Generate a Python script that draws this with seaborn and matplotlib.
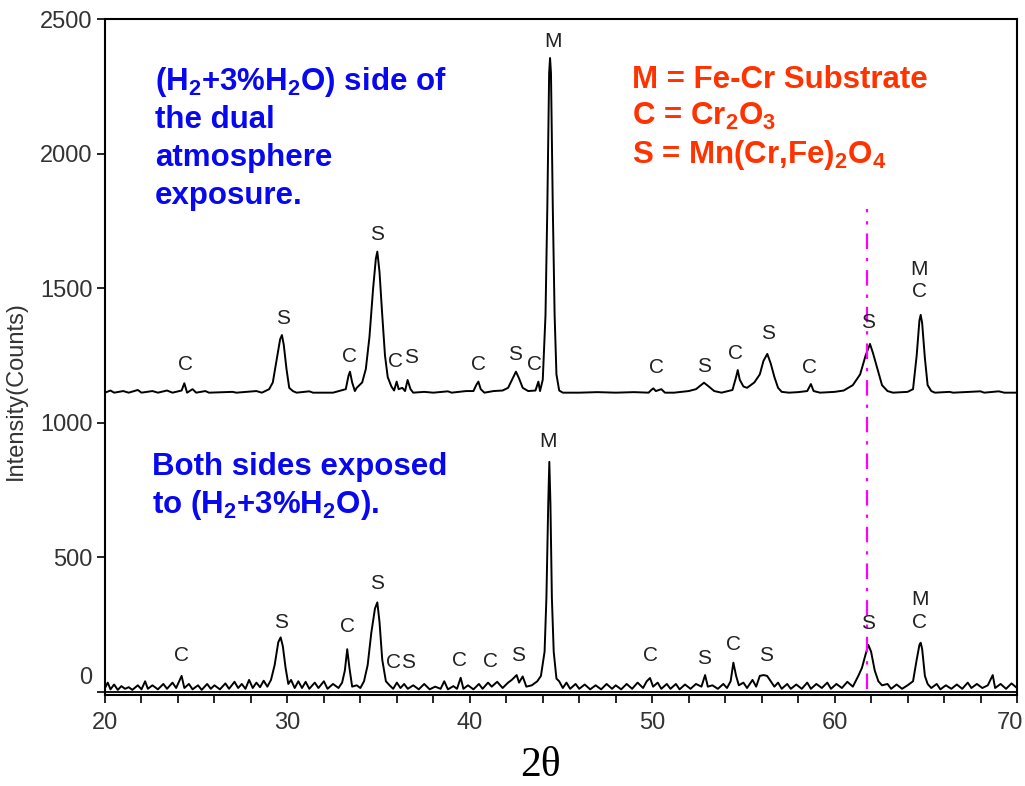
import matplotlib
matplotlib.use("Agg")
import matplotlib.pyplot as plt
import matplotlib.transforms as mtransforms
import seaborn as sns
import pandas as pd

# ---------------- data ----------------
top_x = [20.0, 20.3, 20.5, 21.0, 21.3, 21.8, 22.0, 22.6, 22.9, 23.4, 23.7, 24.2, 24.35, 24.5, 24.8, 25.0,
         25.5, 25.7, 27.0, 27.2, 28.3, 28.6, 29.0, 29.2, 29.4, 29.6, 29.7, 29.8, 29.95, 30.1, 30.3, 30.5,
         31.2, 31.4, 32.5, 33.2, 33.35, 33.43, 33.55, 33.7, 33.8, 34.1, 34.3, 34.5, 34.7, 34.85, 34.93,
         35.05, 35.2, 35.35, 35.5, 35.7, 35.85, 35.99, 36.1, 36.3, 36.45, 36.59, 36.75, 36.9, 37.5, 38.0,
         38.8, 39.0, 39.8, 40.2, 40.35, 40.47, 40.6, 40.8, 41.3, 41.8, 42.1, 42.35, 42.53, 42.7, 42.9,
         43.2, 43.6, 43.76, 43.85, 44.0, 44.15, 44.25, 44.35, 44.4, 44.45, 44.55, 44.65, 44.75, 44.9,
         45.1, 46.0, 47.0, 48.0, 49.0, 49.8, 49.95, 50.06, 50.2, 50.5, 50.7, 51.2, 52.0, 52.4, 52.84,
         53.1, 53.4, 53.8, 54.4, 54.6, 54.69, 54.8, 55.0, 55.2, 55.4, 55.6, 55.9, 56.1, 56.31, 56.5,
         56.7, 56.9, 57.1, 57.5, 58.0, 58.5, 58.7, 58.85, 59.2, 60.0, 60.5, 61.0, 61.4, 61.7, 61.94,
         62.1, 62.35, 62.6, 62.9, 63.2, 64.0, 64.3, 64.5, 64.65, 64.72, 64.8, 64.95, 65.1, 65.3, 65.5,
         66.3, 66.5, 68.0, 68.2, 69.0, 69.3, 70.0]
top_y = [1112, 1120, 1112, 1118, 1112, 1122, 1112, 1118, 1112, 1120, 1112, 1120, 1147, 1112, 1125, 1112,
         1118, 1112, 1115, 1112, 1118, 1112, 1125, 1150, 1230, 1310, 1326, 1290, 1200, 1130, 1118, 1112,
         1117, 1112, 1112, 1125, 1175, 1190, 1150, 1118, 1130, 1150, 1200, 1320, 1500, 1610, 1636,
         1560, 1400, 1250, 1170, 1135, 1120, 1153, 1125, 1130, 1118, 1159, 1125, 1112, 1115, 1112,
         1117, 1112, 1118, 1118, 1140, 1153, 1125, 1112, 1118, 1120, 1130, 1165, 1190, 1165, 1130,
         1118, 1120, 1153, 1118, 1160, 1400, 1800, 2300, 2355, 2300, 1800, 1400, 1180, 1120,
         1112, 1112, 1114, 1112, 1114, 1112, 1122, 1128, 1118, 1125, 1112, 1112, 1118, 1125, 1149,
         1135, 1118, 1112, 1122, 1170, 1196, 1160, 1135, 1130, 1140, 1150, 1180, 1230, 1256, 1220,
         1170, 1130, 1115, 1112, 1114, 1118, 1144, 1118, 1112, 1115, 1120, 1140, 1180, 1250, 1293,
         1260, 1200, 1140, 1118, 1112, 1115, 1125, 1250, 1380, 1401, 1370, 1240, 1140, 1118, 1112,
         1115, 1112, 1117, 1112, 1117, 1112, 1112]

bot_x = [20.0, 20.15, 20.3, 20.5, 20.7, 20.9, 21.1, 21.3, 21.5, 21.8, 22.0, 22.2, 22.35, 22.6, 22.9, 23.2,
         23.4, 23.7, 23.9, 24.2, 24.35, 24.6, 24.8, 25.1, 25.3, 25.6, 25.8, 26.0, 26.3, 26.6, 26.8, 27.1,
         27.3, 27.5, 27.7, 27.9, 28.1, 28.3, 28.5, 28.7, 28.9, 29.1, 29.3, 29.5, 29.63, 29.75, 29.9, 30.05,
         30.2, 30.4, 30.6, 30.8, 31.0, 31.2, 31.5, 31.7, 32.0, 32.2, 32.5, 32.8, 33.0, 33.15, 33.28, 33.4,
         33.55, 33.8, 34.0, 34.2, 34.4, 34.6, 34.8, 34.93, 35.05, 35.2, 35.4, 35.6, 35.8, 36.0, 36.2, 36.4,
         36.6, 36.9, 37.2, 37.5, 37.8, 38.1, 38.4, 38.6, 38.8, 39.1, 39.3, 39.5, 39.65, 39.9, 40.2, 40.5,
         40.7, 41.0, 41.2, 41.5, 41.8, 42.1, 42.3, 42.57, 42.7, 42.9, 43.1, 43.4, 43.7, 43.9, 44.1, 44.2,
         44.3, 44.36, 44.42, 44.5, 44.6, 44.75, 44.9, 45.1, 45.3, 45.5, 45.8, 46.0, 46.3, 46.6, 46.9, 47.2,
         47.5, 47.8, 48.0, 48.3, 48.6, 48.9, 49.2, 49.5, 49.7, 49.88, 50.05, 50.3, 50.5, 50.8, 51.0, 51.3,
         51.5, 51.8, 52.1, 52.4, 52.7, 52.9, 53.05, 53.3, 53.6, 53.9, 54.1, 54.3, 54.45, 54.6, 54.75, 55.0,
         55.2, 55.5, 55.7, 55.9, 56.1, 56.3, 56.5, 56.7, 56.9, 57.1, 57.4, 57.6, 57.9, 58.2, 58.5, 58.7,
         59.0, 59.3, 59.6, 59.8, 60.1, 60.4, 60.7, 61.0, 61.3, 61.5, 61.7, 61.85, 62.0, 62.2, 62.4, 62.6,
         62.9, 63.1, 63.4, 63.7, 64.0, 64.3, 64.5, 64.65, 64.72, 64.8, 64.95, 65.1, 65.3, 65.6, 65.8, 66.1,
         66.4, 66.7, 67.0, 67.3, 67.5, 67.8, 68.1, 68.4, 68.67, 68.8, 69.1, 69.4, 69.7, 70.0]
bot_y = [15, 35, 10, 28, 8, 22, 12, 18, 8, 25, 10, 40, 12, 25, 10, 30,
         12, 35, 15, 60, 15, 30, 10, 25, 8, 30, 12, 25, 10, 32, 12, 38,
         15, 30, 12, 45, 15, 35, 18, 42, 20, 45, 100, 185, 203, 170, 90, 30,
         45, 15, 40, 15, 38, 12, 35, 15, 40, 12, 30, 15, 35, 80, 159, 90,
         20, 25, 15, 40, 100, 220, 310, 333, 260, 120, 40, 25, 12, 35, 15, 30,
         12, 25, 10, 30, 10, 20, 12, 40, 10, 22, 12, 53, 12, 25, 10, 30,
         12, 35, 20, 38, 15, 35, 45, 63, 35, 58, 20, 25, 40, 60, 150, 350,
         700, 855, 700, 350, 150, 50, 40, 15, 35, 12, 30, 12, 28, 10, 25, 10,
         30, 12, 25, 10, 30, 12, 35, 15, 40, 52, 20, 35, 12, 30, 12, 30,
         10, 28, 12, 30, 20, 63, 20, 25, 12, 30, 15, 40, 109, 60, 25, 35,
         15, 45, 20, 60, 63, 60, 40, 20, 35, 12, 30, 12, 28, 12, 35, 12,
         30, 15, 35, 12, 30, 15, 38, 20, 60, 90, 140, 175, 150, 80, 40, 25,
         30, 12, 28, 12, 25, 40, 120, 175, 183, 160, 60, 30, 15, 30, 10, 25,
         12, 28, 12, 35, 15, 30, 15, 25, 63, 15, 30, 12, 32, 15]

top_label_text = ["C", "S", "C", "S", "C", "S", "C", "S", "C", "M", "C", "S", "C", "S", "C", "S", "M", "C"]
top_label_x = [24.42, 29.76, 33.38, 34.91, 35.95, 36.78, 40.45, 42.48, 43.57, 44.56,
               50.21, 52.84, 54.54, 56.35, 58.65, 61.83, 64.63, 64.63]
top_label_y = [1215, 1389, 1248, 1698, 1226, 1244, 1215, 1252, 1215, 2415,
               1204, 1211, 1256, 1330, 1204, 1374, 1568, 1486]

bot_label_text = ["C", "S", "C", "S", "C", "S", "C", "C", "S", "M", "C", "S", "C", "S", "S", "M", "C"]
bot_label_x = [24.17, 29.65, 33.27, 34.91, 35.79, 36.62, 39.46, 41.11, 42.64, 44.29,
               49.88, 52.84, 54.48, 56.24, 61.83, 64.68, 64.68]
bot_label_y = [137, 260, 245, 405, 111, 111, 119, 115, 137, 932,
               134, 126, 175, 137, 256, 342, 260]

ref_line_x = [61.8]
ref_line_ymin = [12]
ref_line_ymax = [1795]

x_major = [20, 30, 40, 50, 60, 70]
y_major = [0, 500, 1000, 1500, 2000, 2500]

# ---------------- style ----------------
sns.set_style("ticks")
plt.rcParams["font.family"] = ["Liberation Sans", "DejaVu Sans"]
plt.rcParams["mathtext.fontset"] = "custom"
plt.rcParams["mathtext.bf"] = "Liberation Sans:bold"
plt.rcParams["mathtext.rm"] = "Liberation Sans:bold"
plt.rcParams["mathtext.default"] = "bf"

fig = plt.figure(figsize=(10.25, 7.86), dpi=100)
ax = fig.add_axes([105 / 1025, 1 - 695 / 786, (1017 - 105) / 1025, (695 - 19) / 786])

df_top = pd.DataFrame({"x": top_x, "y": top_y})
df_bot = pd.DataFrame({"x": bot_x, "y": bot_y})
sns.lineplot(data=df_top, x="x", y="y", ax=ax, color="black", lw=1.4, sort=False, estimator=None)
sns.lineplot(data=df_bot, x="x", y="y", ax=ax, color="black", lw=1.4, sort=False, estimator=None)
ax.axhline(0, color="black", lw=1.3)

ax.vlines(ref_line_x, ref_line_ymin, ref_line_ymax, colors="#ff00ff", lw=1.6,
          linestyles=(0, (7, 4, 1.5, 4)))

lab_kw = dict(ha="center", va="center", fontsize=15, color="#222222")
for t, x, y in zip(top_label_text, top_label_x, top_label_y):
    ax.text(x, y, t, **lab_kw)
for t, x, y in zip(bot_label_text, bot_label_x, bot_label_y):
    ax.text(x, y, t, **lab_kw)

ax.set_xlim(20, 70)
ax.set_ylim(-11, 2500)
ax.set_xticks(x_major)
ax.set_xticks(list(range(20, 71, 2)), minor=True)
ax.set_yticks(y_major)
ax.set_xticklabels([str(v) for v in x_major])
ax.set_yticklabels([str(v) for v in y_major])
ax.tick_params(axis="both", which="both", direction="out", length=6, width=1.2,
               labelsize=17, labelcolor="#333333", color="black")
ax.tick_params(axis="x", which="both", pad=6)
ax.tick_params(axis="y", pad=3)
# shift the "0" label up a bit as in the reference
zero_lbl = ax.get_yticklabels()[0]
zero_lbl.set_transform(zero_lbl.get_transform() +
                       mtransforms.ScaledTranslation(0, 12 / 72, fig.dpi_scale_trans))
# keep the last x label inside the figure
last_lbl = ax.get_xticklabels()[-1]
last_lbl.set_transform(last_lbl.get_transform() +
                       mtransforms.ScaledTranslation(-7 / 100, 0, fig.dpi_scale_trans))

for s in ax.spines.values():
    s.set_visible(True)
    s.set_linewidth(1.5)
    s.set_color("black")

ax.set_xlabel("")
ax.set_ylabel("Intensity(Counts)", fontsize=17, color="#333333")
ax.yaxis.set_label_coords(-0.086, 0.45)

fig.text(540 / 1025, 1 - 776 / 786, "2θ", fontsize=30, family=["Liberation Serif", "DejaVu Serif"],
         ha="center", va="baseline", color="black")

blue = "#0808f0"
red = "#ff3300"
tk = dict(fontsize=22.5, fontweight="bold", ha="left", va="baseline")


def ftext(px, py, s, c):
    fig.text(px / 1025, 1 - py / 786, s, color=c, **tk)


ftext(155, 90, r"(H$_2$+3%H$_2$O) side of", blue)
ftext(155, 128, "the dual", blue)
ftext(155, 166, "atmosphere", blue)
ftext(155, 204, "exposure.", blue)
ftext(152, 475, "Both sides exposed", blue)
ftext(152, 513, r"to (H$_2$+3%H$_2$O).", blue)
ftext(632, 88, "M = Fe-Cr Substrate", red)
ftext(632, 125, r"C = Cr$_2$O$_3$", red)
ftext(632, 163, r"S = Mn(Cr,Fe)$_2$O$_4$", red)

fig.savefig("out.png", dpi=100)
